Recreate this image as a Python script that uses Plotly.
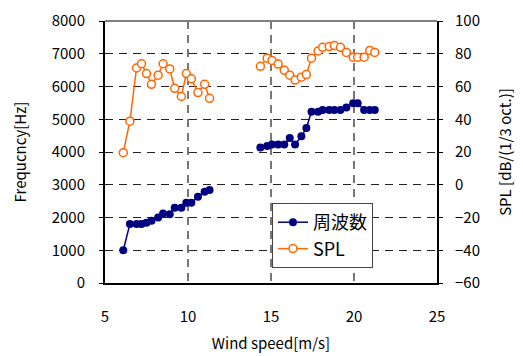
import plotly.graph_objects as go

wind_speed = [6.1, 6.5, 6.9, 7.2, 7.5, 7.8, 8.2, 8.5, 8.9, 9.2, 9.6, 9.9, 10.2, 10.6, 11.0, 11.3,
              None,
              14.36, 14.77, 15.06, 15.43, 15.80, 16.13, 16.45, 16.83, 17.13, 17.44, 17.84, 18.11,
              18.51, 18.82, 19.18, 19.54, 19.95, 20.22, 20.61, 20.95, 21.25]
frequency = [1000, 1800, 1800, 1800, 1840, 1900, 2000, 2120, 2100, 2300, 2300, 2450, 2450, 2630, 2790, 2840,
             None,
             4140, 4180, 4230, 4230, 4230, 4430, 4230, 4480, 4730, 5230, 5230, 5280,
             5280, 5280, 5280, 5360, 5490, 5490, 5280, 5280, 5280]
spl = [19.6, 38.8, 71.3, 73.9, 67.9, 61.3, 66.9, 73.9, 70.7, 58.9, 53.9, 67.9, 64.7, 56.3, 61.3, 52.8,
       None,
       72.3, 77.3, 75.9, 73.7, 69.9, 66.9, 63.9, 65.7, 67.3, 77.3, 81.7, 83.9,
       84.4, 85.0, 83.9, 80.8, 77.9, 77.9, 77.9, 82.0, 80.8]

x_ticks = [5, 10, 15, 20, 25]
y_left_ticks = [0, 1000, 2000, 3000, 4000, 5000, 6000, 7000, 8000]
y_right_ticks = [-60, -40, -20, 0, 20, 40, 60, 80, 100]

FONT = "Noto Sans CJK JP"
OFF = 8  # page body margin
W, H = 523 - OFF, 356 - OFF
# plot area in page pixels
L, R, T, B = 105, 437, 21, 283

fig = go.Figure()
fig.add_trace(go.Scatter(
    x=wind_speed, y=frequency, name="周波数", mode="lines+markers",
    line=dict(color="#000080", width=1.5),
    marker=dict(symbol="circle", size=8, color="#000080"),
    connectgaps=False, yaxis="y"))
fig.add_trace(go.Scatter(
    x=wind_speed, y=spl, name="SPL", mode="lines+markers",
    line=dict(color="#FF6600", width=1.5),
    marker=dict(symbol="circle", size=8, color="white", line=dict(color="#FF6600", width=1.5)),
    connectgaps=False, yaxis="y2"))

fig.update_layout(
    width=W, height=H,
    margin=dict(l=L - OFF, r=523 - R, t=T - OFF, b=356 - B, autoexpand=False),
    paper_bgcolor="white", plot_bgcolor="white",
    font=dict(family=FONT, size=15, color="black"),
    showlegend=True,
    legend=dict(x=(272 - L) / (R - L), y=(B - 203) / (B - T), xanchor="left", yanchor="top",
                bgcolor="white", bordercolor="#444", borderwidth=1,
                font=dict(family=FONT, size=18), tracegroupgap=0),
    xaxis=dict(range=[5, 25], tickvals=x_ticks, showgrid=True, gridcolor="#777",
               griddash="8px,6px", gridwidth=1.5, zeroline=False, automargin=False,
               showline=True, linecolor="black", linewidth=2, ticks="",
               ticklabelstandoff=19, ticklabeloverflow="allow",
               title=dict(text="Wind speed[m/s]", standoff=13, font=dict(size=15))),
    yaxis=dict(range=[0, 8000], tickvals=y_left_ticks, showgrid=True, gridcolor="#222",
               griddash="8px,6px", gridwidth=1.2, zeroline=False, automargin=False,
               showline=True, linecolor="black", linewidth=2,
               ticks="outside", ticklen=4, tickcolor="black", ticklabelstandoff=11,
               ticklabeloverflow="allow",
               title=dict(text="Frequcncy[Hz]", standoff=21, font=dict(size=15))),
    yaxis2=dict(range=[-60, 100], tickvals=y_right_ticks, overlaying="y", side="right",
                showgrid=False, zeroline=False, automargin=False,
                showline=True, linecolor="black", linewidth=2,
                ticks="outside", ticklen=4, tickcolor="black", ticklabelstandoff=9,
                tickformat="d", ticklabeloverflow="allow",
                title=dict(text="SPL [dB/(1/3 oct.)]", standoff=22, font=dict(size=15))),
    shapes=[dict(type="line", xref="paper", yref="paper", x0=0, x1=1, y0=1, y1=1,
                 line=dict(color="#808080", width=2))],
)
fig.write_html("out.html")
